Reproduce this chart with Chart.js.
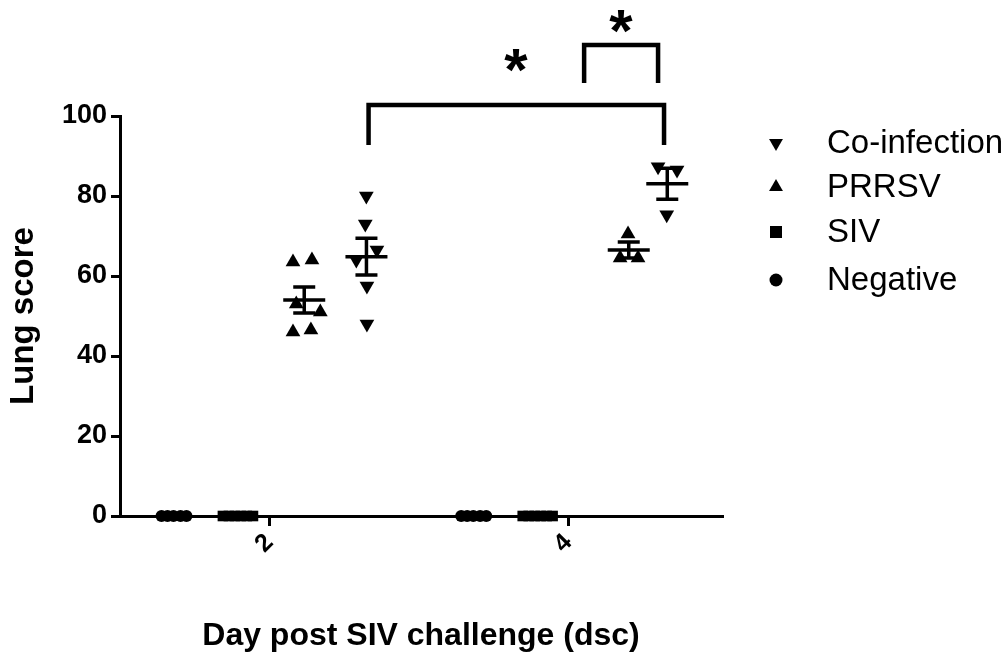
<!DOCTYPE html>
<html>
<head>
<meta charset="utf-8">
<script src="https://cdn.jsdelivr.net/npm/chart.js@4.4.0/dist/chart.umd.min.js"></script>
<style>
  html, body { margin: 0; padding: 0; background: #fff; }
  #wrap { width: 1007px; height: 659px; }
</style>
</head>
<body>
<div id="wrap"><canvas id="lungChart"></canvas></div>
<script>
// tick labels on x axis
const days = [2, 4];
const yTicks = [0, 20, 40, 60, 80, 100];

const seriesNames = ['Co-infection', 'PRRSV', 'SIV', 'Negative'];

// each point: x = day + jitter
const coinfX = [2.649, 2.642, 2.720, 2.582, 2.653, 2.653, 4.602, 4.729, 4.660];
const coinfY = [80, 73, 66.5, 64, 57.5, 48, 87.3, 86.5, 75.3];
const prrsvX = [2.158, 2.285, 2.180, 2.341, 2.158, 2.278, 4.401, 4.348, 4.468];
const prrsvY = [63.5, 64, 53, 51, 46, 46.5, 70.5, 64.5, 64.5];
const sivX = [1.689, 1.729, 1.769, 1.809, 1.849, 1.890, 3.696, 3.736, 3.776, 3.816, 3.856, 3.896];
const sivY = [0, 0, 0, 0, 0, 0, 0, 0, 0, 0, 0, 0];
const negX = [1.278, 1.318, 1.358, 1.405, 1.445, 3.284, 3.324, 3.365, 3.411, 3.452];
const negY = [0, 0, 0, 0, 0, 0, 0, 0, 0, 0];

// significance brackets (data units)
const bracketFrom = [2.664, 4.107];
const bracketTo = [4.642, 4.602];
const bracketTop = [102.75, 117.75];
const bracketBottom = [92.75, 108.25];
const starX = [3.65, 4.353];
const starY = [114, 123.6];

const FONT = "'Liberation Sans', Arial, sans-serif";

function pts(xs, ys) {
  return xs.map((x, i) => ({ x: x, y: ys[i] }));
}

const markerStyles = [
  { pointStyle: 'triangle', rotation: 180, radius: 8.5 },
  { pointStyle: 'triangle', rotation: 0, radius: 8.5 },
  { pointStyle: 'rect', rotation: 0, radius: 7.5 },
  { pointStyle: 'circle', rotation: 0, radius: 6 }
];
const legendRadius = [8, 8, 8.5, 6.5];
const seriesData = [pts(coinfX, coinfY), pts(prrsvX, prrsvY), pts(sivX, sivY), pts(negX, negY)];

const datasets = seriesNames.map((name, i) => ({
  label: name,
  data: seriesData[i],
  pointStyle: markerStyles[i].pointStyle,
  pointRotation: markerStyles[i].rotation,
  pointRadius: markerStyles[i].radius,
  pointHoverRadius: markerStyles[i].radius,
  backgroundColor: '#000',
  borderColor: '#000',
  borderWidth: 0,
  showLine: false,
  clip: false
}));

// mean + SEM bars, brackets, legend
const extras = {
  id: 'extras',
  afterDatasetsDraw(chart) {
    const ctx = chart.ctx;
    const xs = chart.scales.x, ys = chart.scales.y;
    ctx.save();
    ctx.strokeStyle = '#000';
    ctx.fillStyle = '#000';
    ctx.lineCap = 'butt';

    // error bars for the two non-zero groups
    seriesData.slice(0, 2).forEach(data => {
      days.forEach(d => {
        const g = data.filter(p => Math.abs(p.x - d) < 1);
        if (!g.length) return;
        const n = g.length;
        const mean = g.reduce((s, p) => s + p.y, 0) / n;
        const sd = Math.sqrt(g.reduce((s, p) => s + (p.y - mean) ** 2, 0) / (n - 1));
        const sem = sd / Math.sqrt(n);
        const cx = xs.getPixelForValue(g.reduce((s, p) => s + p.x, 0) / n);
        const ym = ys.getPixelForValue(mean);
        const yt = ys.getPixelForValue(mean + sem);
        const yb = ys.getPixelForValue(mean - sem);
        ctx.lineWidth = 3.5;
        ctx.beginPath();
        ctx.moveTo(cx - 21, ym); ctx.lineTo(cx + 21, ym);
        ctx.moveTo(cx - 11, yt); ctx.lineTo(cx + 11, yt);
        ctx.moveTo(cx - 11, yb); ctx.lineTo(cx + 11, yb);
        ctx.moveTo(cx, yt); ctx.lineTo(cx, yb);
        ctx.stroke();
      });
    });

    // brackets
    ctx.lineWidth = 4.5;
    ctx.lineJoin = 'miter';
    bracketFrom.forEach((f, i) => {
      const x1 = xs.getPixelForValue(f), x2 = xs.getPixelForValue(bracketTo[i]);
      const yt = ys.getPixelForValue(bracketTop[i]), yb = ys.getPixelForValue(bracketBottom[i]);
      ctx.beginPath();
      ctx.moveTo(x1, yb); ctx.lineTo(x1, yt); ctx.lineTo(x2, yt); ctx.lineTo(x2, yb);
      ctx.stroke();
    });
    ctx.font = 'bold 60px ' + FONT;
    ctx.textAlign = 'center';
    ctx.textBaseline = 'alphabetic';
    starX.forEach((sx, i) => {
      const m = ctx.measureText('*');
      const px = xs.getPixelForValue(sx), py = ys.getPixelForValue(starY[i]);
      ctx.fillText('*', px, py + (m.actualBoundingBoxAscent - m.actualBoundingBoxDescent) / 2);
    });

    // legend
    ctx.font = '33px ' + FONT;
    ctx.textAlign = 'left';
    ctx.textBaseline = 'middle';
    const legendY = [143, 187, 232, 280];
    seriesNames.forEach((name, i) => {
      Chart.helpers.drawPoint(ctx, {
        pointStyle: markerStyles[i].pointStyle,
        rotation: markerStyles[i].rotation,
        radius: legendRadius[i],
        borderWidth: 0
      }, 776, legendY[i]);
      ctx.fillText(name, 827, legendY[i] + 1);
    });
    ctx.restore();
  }
};

const chart = new Chart(document.getElementById('lungChart'), {
  type: 'scatter',
  data: { datasets: datasets },
  options: {
    responsive: true,
    maintainAspectRatio: false,
    animation: false,
    layout: { padding: { top: 116, right: 285, left: 0, bottom: 0 } },
    plugins: { legend: { display: false }, tooltip: { enabled: false } },
    scales: {
      x: {
        type: 'linear',
        min: 1,
        max: 5.03,
        afterBuildTicks: axis => { axis.ticks = days.map(v => ({ value: v })); },
        afterFit: axis => { axis.height = 143; },
        grid: { drawOnChartArea: false, drawTicks: true, tickLength: 10, lineWidth: 3, color: '#000' },
        border: { display: true, color: '#000', width: 3 },
        ticks: {
          color: '#000',
          font: { family: FONT, size: 25, weight: 'bold' },
          minRotation: 45,
          maxRotation: 45,
          padding: 2,
          callback: v => String(v)
        },
        title: {
          display: true,
          text: 'Day post SIV challenge (dsc)',
          color: '#000',
          font: { family: FONT, size: 32, weight: 'bold' },
          padding: { top: 0, bottom: 4 }
        }
      },
      y: {
        min: 0,
        max: 100,
        afterBuildTicks: axis => { axis.ticks = yTicks.map(v => ({ value: v })); },
        afterFit: axis => { axis.width = 120; },
        grid: { drawOnChartArea: false, drawTicks: true, tickLength: 9, lineWidth: 3, color: '#000' },
        border: { display: true, color: '#000', width: 3 },
        ticks: {
          color: '#000',
          font: { family: FONT, size: 27, weight: 'bold' },
          padding: 4
        },
        title: {
          display: true,
          text: 'Lung score',
          color: '#000',
          font: { family: FONT, size: 33, weight: 'bold' },
          padding: { top: 4, bottom: 0 }
        }
      }
    }
  },
  plugins: [extras]
});
</script>
</body>
</html>
